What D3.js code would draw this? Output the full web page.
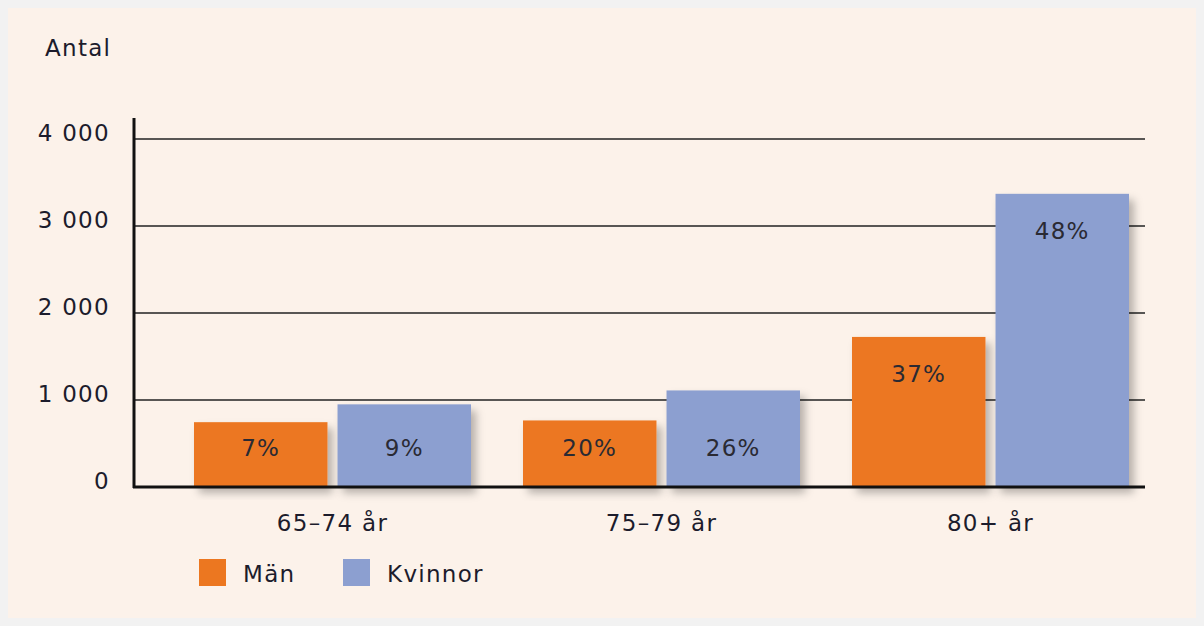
<!DOCTYPE html>
<html>
<head>
<meta charset="utf-8"/>
<title>Antal per åldersgrupp</title>
<script src="https://cdn.jsdelivr.net/npm/d3@7"></script>
<style>
 body { margin: 0; background: #f2f2f2; }
 svg { display: block; font-family: "DejaVu Sans", Verdana, sans-serif; letter-spacing: 1.3px; }
</style>
</head>
<body>
<div id="chart"></div>
<script>
// values
var groups = ['65–74 år', '75–79 år', '80+ år'];
var series = ['Män', 'Kvinnor'];
var man = [745, 765, 1725];
var kvinnor = [950, 1110, 3370];
var manPct = ['7%', '20%', '37%'];
var kvinnorPct = ['9%', '26%', '48%'];
var yTicks = [0, 1000, 2000, 3000, 4000];
var colors = ['#ec7720', '#8c9fd0'];

var W = 1204, H = 626, fs = 23;
var svg = d3.select('#chart').append('svg').attr('width', W).attr('height', H);

// drop shadow behind bars
var f = svg.append('defs').append('filter').attr('id', 'shadow')
  .attr('x', '-10%').attr('y', '-10%').attr('width', '130%').attr('height', '130%');
f.append('feDropShadow').attr('dx', 5).attr('dy', 6).attr('stdDeviation', 4)
  .attr('flood-color', '#000').attr('flood-opacity', 0.28);

svg.append('rect').attr('x', 8).attr('y', 8).attr('width', W - 16).attr('height', H - 16)
  .attr('fill', '#fcf2ea');

var x0 = 134, x1 = 1145;
var y = d3.scaleLinear().domain([0, 4000]).range([487, 139]);
var xg = d3.scaleBand().domain(groups).range([168, 1155]);
var xs = d3.scaleBand().domain(series).range([26, 303]).paddingInner(0.07);

// gridlines
svg.append('g').selectAll('line').data(yTicks.slice(1)).join('line')
  .attr('x1', x0).attr('x2', x1)
  .attr('y1', function(d) { return y(d); }).attr('y2', function(d) { return y(d); })
  .attr('stroke', '#222').attr('stroke-width', 1.5);

var fmt = function(d) { return d3.format(',')(d).replace(/,/g, ' '); };
svg.append('g').selectAll('text').data(yTicks).join('text')
  .attr('x', 110).attr('y', function(d) { return y(d) + 2; })
  .attr('text-anchor', 'end').attr('font-size', fs).attr('fill', '#1c1c2c')
  .text(fmt);

svg.append('text').attr('x', 45).attr('y', 56).attr('font-size', fs)
  .attr('fill', '#1c1c2c').text('Antal');

var rows = groups.map(function(g, i) {
  return [
    { g: g, s: series[0], v: man[i], p: manPct[i], c: colors[0] },
    { g: g, s: series[1], v: kvinnor[i], p: kvinnorPct[i], c: colors[1] }
  ];
});
var data = [].concat.apply([], rows);

var bars = svg.append('g');
bars.selectAll('rect').data(data).join('rect')
  .attr('x', function(d) { return xg(d.g) + xs(d.s); })
  .attr('y', function(d) { return y(d.v); })
  .attr('width', xs.bandwidth())
  .attr('height', function(d) { return y(0) - y(d.v); })
  .attr('fill', function(d) { return d.c; })
  .attr('filter', 'url(#shadow)');

// short bars share one label line, tall bars label near the top
bars.selectAll('text').data(data).join('text')
  .attr('x', function(d) { return xg(d.g) + xs(d.s) + xs.bandwidth() / 2; })
  .attr('y', function(d) { return d.v > 1500 ? y(d.v) + 45 : y(0) - 31; })
  .attr('text-anchor', 'middle').attr('font-size', fs).attr('fill', '#2a2a33')
  .text(function(d) { return d.p; });

// axes
svg.append('line').attr('x1', x0).attr('x2', x0).attr('y1', 118).attr('y2', 488)
  .attr('stroke', '#111').attr('stroke-width', 3);
svg.append('line').attr('x1', x0 - 1).attr('x2', x1).attr('y1', 487).attr('y2', 487)
  .attr('stroke', '#111').attr('stroke-width', 3);

svg.append('g').selectAll('text').data(groups).join('text')
  .attr('x', function(d) { return xg(d) + xg.bandwidth() / 2; })
  .attr('y', 531).attr('text-anchor', 'middle').attr('font-size', fs)
  .attr('fill', '#1c1c2c').text(function(d) { return d; });

// legend
var leg = svg.append('g').selectAll('g').data(series).join('g')
  .attr('transform', function(d, i) { return 'translate(' + (199 + i * 144) + ',559)'; });
leg.append('rect').attr('width', 27).attr('height', 27)
  .attr('fill', function(d, i) { return colors[i]; });
leg.append('text').attr('x', 44).attr('y', 23).attr('font-size', fs)
  .attr('fill', '#1c1c2c').text(function(d) { return d; });
</script>
</body>
</html>
